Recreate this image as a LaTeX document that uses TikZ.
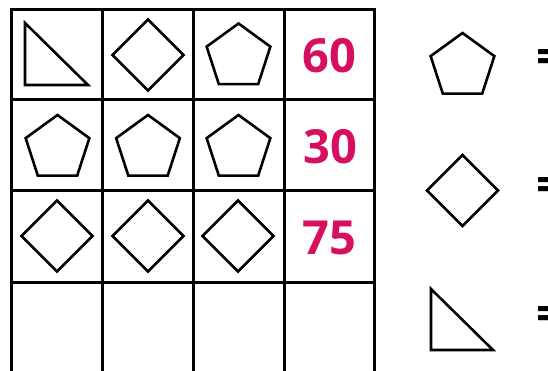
\documentclass[tikz,border=0pt]{standalone}
\usepackage{fontspec}
\setmainfont{Open Sans}
\usepackage{xcolor}
\usetikzlibrary{shapes.geometric}

\definecolor{sumred}{RGB}{214,16,94}

\begin{document}
\begin{tikzpicture}[
    x=1pt, y=-1pt,
    gridline/.style={line width=3pt, black},
    figure/.style={draw, line width=2.6pt, line join=miter, inner sep=0pt},
    pent/.style={figure, regular polygon, regular polygon sides=5, minimum size=67pt},
    rhomb/.style={figure, diamond, minimum width=72pt, minimum height=72pt},
    total/.style={font=\bfseries\fontsize{47}{47}\selectfont, text=sumred},
    equals/.style={font=\bfseries\fontsize{48}{48}\selectfont, anchor=base west}
]
\useasboundingbox (0,0) rectangle (548,371);
\clip (0,0) rectangle (548,371);

% the grid
\foreach \x in {11.5,102.5,193,284,374.5}
    \draw[gridline] (\x,8) -- (\x,380);
\foreach \y in {9.5,100,191,282}
    \draw[gridline] (10,\y) -- (376,\y);

% first row
\draw[figure] (25,23) -- (25,85) -- (88,85) -- cycle;
\node[rhomb] (d11) at (148,55) {};
\node[pent] (p11) at (238.5,57) {};
\node[total] (s1) at (329.5,56) {60};

% second row
\node[pent] (p21) at (57.5,148.5) {};
\node[pent] (p22) at (148,148.5) {};
\node[pent] (p23) at (238.5,148.5) {};
\node[total] (s2) at (330,147) {30};

% third row
\node[rhomb] (d31) at (57,236) {};
\node[rhomb] (d32) at (148,236) {};
\node[rhomb] (d33) at (238,236) {};
\node[total] (s3) at (329.5,238) {75};

% key
\node[pent] (kp) at (462.5,66.5) {};
\node[rhomb] (kd) at (462.5,190.5) {};
\draw[figure] (431,289) -- (431,350) -- (493,350) -- cycle;
\node[equals] (e1) at (533,74) {=};
\node[equals] (e2) at (533,202) {=};
\node[equals] (e3) at (533,330) {=};
\end{tikzpicture}
\end{document}
